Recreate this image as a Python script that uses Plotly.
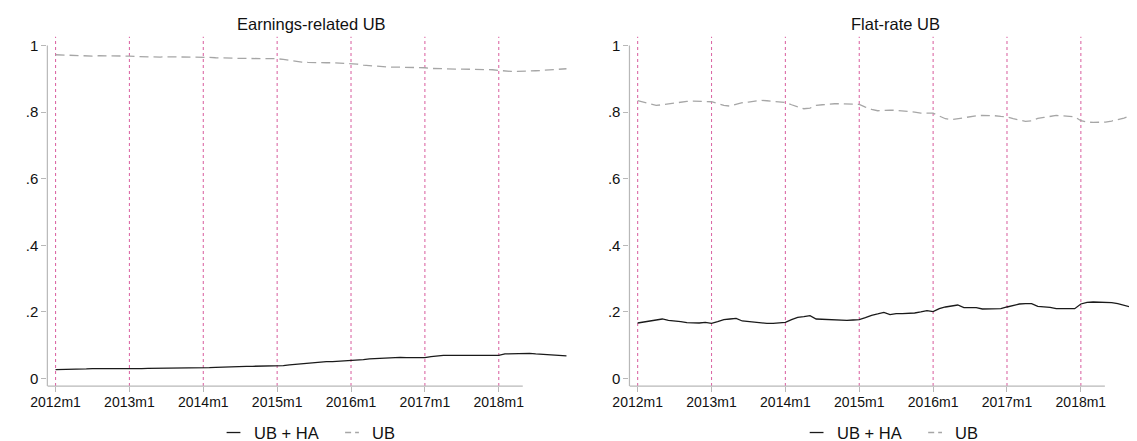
import plotly.graph_objects as go

# ---------------- data ----------------
months = list(range(84))  # 0 = 2012m1 ... 83 = 2018m12
tick_vals = [0, 12, 24, 36, 48, 60, 72]
tick_text = ["2012m1", "2013m1", "2014m1", "2015m1", "2016m1", "2017m1", "2018m1"]
y_tick_vals = [0, 0.2, 0.4, 0.6, 0.8, 1.0]
y_tick_text = ["0", ".2", ".4", ".6", ".8", "1"]

titles = ["Earnings-related UB", "Flat-rate UB"]
series_names = ["UB + HA", "UB"]

er_ub_ha = [
    0.027, 0.027, 0.028, 0.028, 0.029, 0.029, 0.030, 0.030, 0.030, 0.029, 0.029, 0.028,
    0.028, 0.029, 0.030, 0.031, 0.031, 0.032, 0.033, 0.033, 0.033, 0.032, 0.032, 0.031,
    0.032, 0.033, 0.034, 0.035, 0.036, 0.036, 0.037, 0.037, 0.037, 0.037, 0.037, 0.038,
    0.038, 0.039, 0.041, 0.043, 0.044, 0.046, 0.049, 0.050, 0.051, 0.051, 0.052, 0.052,
    0.053, 0.055, 0.057, 0.059, 0.060, 0.062, 0.063, 0.064, 0.064, 0.063, 0.063, 0.063,
    0.063, 0.066, 0.069, 0.070, 0.070, 0.070, 0.069, 0.069, 0.068, 0.068, 0.068, 0.068,
    0.070, 0.074, 0.075, 0.076, 0.076, 0.076, 0.074, 0.073, 0.072, 0.071, 0.070, 0.068,
]
er_ub = [
    0.972, 0.971, 0.970, 0.969, 0.968, 0.968, 0.968, 0.969, 0.969, 0.970, 0.970, 0.969,
    0.968, 0.967, 0.966, 0.965, 0.965, 0.965, 0.966, 0.966, 0.966, 0.966, 0.966, 0.965,
    0.965, 0.964, 0.963, 0.962, 0.962, 0.961, 0.961, 0.961, 0.961, 0.961, 0.961, 0.960,
    0.960, 0.958, 0.955, 0.952, 0.950, 0.949, 0.948, 0.948, 0.948, 0.948, 0.947, 0.946,
    0.946, 0.944, 0.941, 0.939, 0.937, 0.936, 0.935, 0.935, 0.935, 0.935, 0.935, 0.934,
    0.933, 0.931, 0.930, 0.929, 0.929, 0.929, 0.929, 0.929, 0.929, 0.929, 0.928, 0.927,
    0.925, 0.923, 0.922, 0.922, 0.922, 0.923, 0.924, 0.925, 0.926, 0.928, 0.929, 0.930,
]
fr_ub_ha = [
    0.167, 0.170, 0.173, 0.176, 0.179, 0.175, 0.174, 0.171, 0.168, 0.167, 0.167, 0.169,
    0.166, 0.171, 0.177, 0.179, 0.181, 0.173, 0.171, 0.170, 0.167, 0.166, 0.166, 0.167,
    0.169, 0.177, 0.184, 0.186, 0.189, 0.179, 0.178, 0.177, 0.175, 0.175, 0.175, 0.176,
    0.177, 0.183, 0.190, 0.194, 0.199, 0.192, 0.195, 0.195, 0.195, 0.197, 0.200, 0.204,
    0.201, 0.210, 0.215, 0.217, 0.221, 0.213, 0.214, 0.213, 0.209, 0.209, 0.209, 0.210,
    0.215, 0.219, 0.224, 0.225, 0.225, 0.217, 0.216, 0.214, 0.210, 0.210, 0.210, 0.210,
    0.224, 0.229, 0.230, 0.230, 0.230, 0.228, 0.225, 0.220, 0.215, 0.214, 0.213, 0.212,
]
fr_ub = [
    0.834, 0.829, 0.824, 0.820, 0.822, 0.825, 0.826, 0.829, 0.832, 0.833, 0.832, 0.830,
    0.831, 0.826, 0.820, 0.818, 0.824, 0.828, 0.830, 0.833, 0.835, 0.834, 0.832, 0.829,
    0.829, 0.822, 0.815, 0.810, 0.812, 0.820, 0.822, 0.824, 0.825, 0.825, 0.825, 0.824,
    0.823, 0.815, 0.808, 0.804, 0.806, 0.806, 0.805, 0.804, 0.803, 0.800, 0.797, 0.797,
    0.797, 0.788, 0.780, 0.777, 0.780, 0.785, 0.787, 0.789, 0.790, 0.790, 0.789, 0.787,
    0.786, 0.780, 0.775, 0.772, 0.774, 0.781, 0.784, 0.788, 0.790, 0.789, 0.788, 0.786,
    0.774, 0.770, 0.769, 0.769, 0.770, 0.773, 0.777, 0.782, 0.788, 0.790, 0.789, 0.788,
]

# ---------------- styling / geometry ----------------
# The page body has an 8px default margin, so the figure is made 8px smaller
# and every page-pixel position is shifted by that margin.
PAGE_W, PAGE_H = 1137, 441
OFF = 8
W, H = PAGE_W - OFF, PAGE_H - OFF
FONT = "Liberation Sans, Arial, Helvetica, sans-serif"
BLACK = "#1a1a1a"
GREY = "#a6a6a6"
PINK = "#dc6aa6"
AXIS = "#b8b8b8"


def px(x):
    return (x - OFF) / W


def py(y):
    return 1 - (y - OFF) / H


y_dom = [py(387), py(36.7)]
y_rng = [-0.0225, 1.0264]
x_end_axis = 75.9  # where the x axis line stops

panels = [
    dict(xa="x", ya="y", dom=[px(30.7), px(566)], rng=[-1.33, 84.32],
         data=(er_ub_ha, er_ub), title_x=298.5, leg_off=0),
    dict(xa="x2", ya="y2", dom=[px(621.7), 1.0], rng=[-1.33, 81.12],
         data=(fr_ub_ha, fr_ub), title_x=891.6, leg_off=592),
]

fig = go.Figure()
shapes = []
annotations = []

for i, p in enumerate(panels):
    s_ha, s_ub = p["data"]
    fig.add_trace(go.Scatter(x=months, y=s_ub, xaxis=p["xa"], yaxis=p["ya"], mode="lines",
                             name=series_names[1], showlegend=False,
                             line=dict(color=GREY, width=1.3, dash="9px,5px")))
    fig.add_trace(go.Scatter(x=months, y=s_ha, xaxis=p["xa"], yaxis=p["ya"], mode="lines",
                             name=series_names[0], showlegend=False,
                             line=dict(color=BLACK, width=1.3)))
    # vertical reference lines
    for tv in tick_vals:
        shapes.append(dict(type="line", xref=p["xa"], yref="paper", x0=tv, x1=tv,
                           y0=y_dom[0], y1=y_dom[1], layer="below",
                           line=dict(color=PINK, width=1.1, dash="3px,3px")))
    # y axis line
    shapes.append(dict(type="line", xref="paper", yref=p["ya"], x0=p["dom"][0], x1=p["dom"][0],
                       y0=y_rng[0], y1=1.0, line=dict(color=AXIS, width=1.2)))
    # x axis line
    shapes.append(dict(type="line", xref=p["xa"], yref="paper", x0=p["rng"][0], x1=x_end_axis,
                       y0=y_dom[0], y1=y_dom[0], line=dict(color=AXIS, width=1.2)))
    # title
    annotations.append(dict(text=titles[i], x=px(p["title_x"]), y=py(24), xref="paper", yref="paper",
                            xanchor="center", yanchor="middle", showarrow=False,
                            font=dict(family=FONT, size=16.5, color="#111")))
    # legend
    off = p["leg_off"]
    ly = py(433.5)
    shapes.append(dict(type="line", xref="paper", yref="paper", x0=px(212.7 + off), x1=px(226.7 + off),
                       y0=ly, y1=ly, line=dict(color=BLACK, width=1.3)))
    shapes.append(dict(type="line", xref="paper", yref="paper", x0=px(333 + off), x1=px(347 + off),
                       y0=ly, y1=ly, line=dict(color=GREY, width=1.3, dash="6px,4px")))
    annotations.append(dict(text=series_names[0], x=px(238.3 + off), y=ly, xref="paper", yref="paper",
                            xanchor="left", yanchor="middle", showarrow=False,
                            font=dict(family=FONT, size=16.5, color="#111")))
    annotations.append(dict(text=series_names[1], x=px(358 + off), y=ly, xref="paper", yref="paper",
                            xanchor="left", yanchor="middle", showarrow=False,
                            font=dict(family=FONT, size=16.5, color="#111")))

common_x = dict(tickvals=tick_vals, ticktext=tick_text, ticks="outside", ticklen=5, tickwidth=1.2,
                tickcolor=AXIS, showgrid=False, zeroline=False, showline=False,
                ticklabelstandoff=-2,
                tickfont=dict(family=FONT, size=14, color="#111"))
common_y = dict(tickvals=y_tick_vals, ticktext=y_tick_text, ticks="outside", ticklen=5, tickwidth=1.2,
                tickcolor=AXIS, showgrid=False, zeroline=False, showline=False, range=y_rng,
                domain=y_dom, tickfont=dict(family=FONT, size=15, color="#111"))

fig.update_layout(
    width=W, height=H,
    margin=dict(l=0, r=0, t=0, b=0),
    paper_bgcolor="white", plot_bgcolor="white",
    showlegend=False,
    xaxis=dict(domain=panels[0]["dom"], range=panels[0]["rng"], anchor="y", **common_x),
    yaxis=dict(anchor="x", **common_y),
    xaxis2=dict(domain=panels[1]["dom"], range=panels[1]["rng"], anchor="y2", **common_x),
    yaxis2=dict(anchor="x2", **common_y),
    shapes=shapes,
    annotations=annotations,
)

fig.write_html("out.html")
